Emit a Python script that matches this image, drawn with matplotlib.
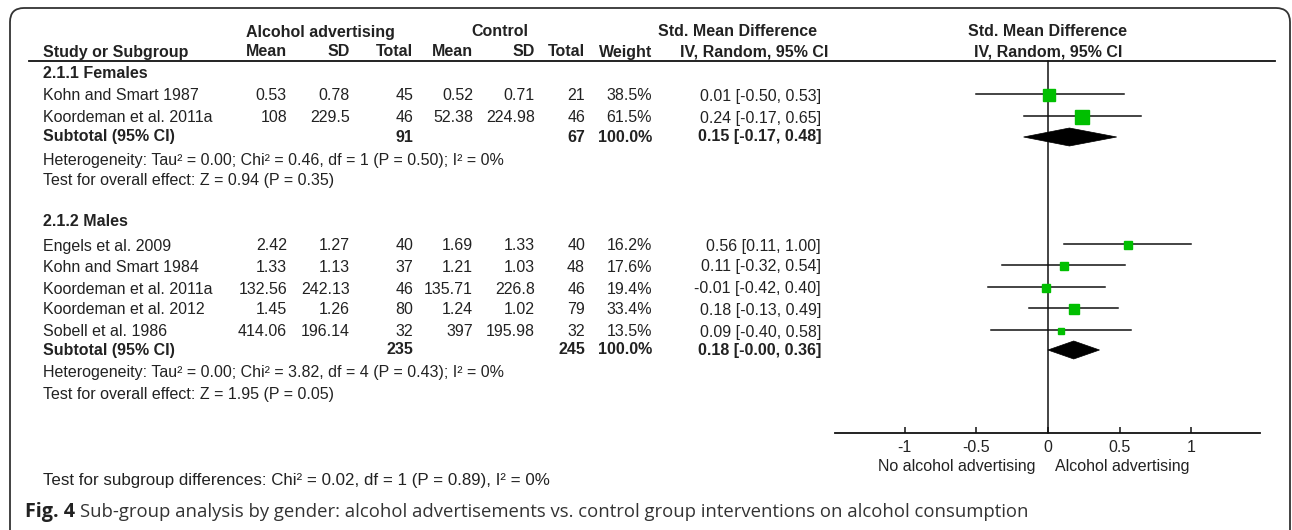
import matplotlib
matplotlib.use("Agg")
import matplotlib.pyplot as plt
from matplotlib.patches import Polygon
from matplotlib.path import Path
from matplotlib.patches import PathPatch

plt.rcParams['font.family'] = ['Liberation Sans', 'DejaVu Sans']

# ---- data ----
fem_studies = ["Kohn and Smart 1987", "Koordeman et al. 2011a"]
fem_exp_mean = ["0.53", "108"]
fem_exp_sd = ["0.78", "229.5"]
fem_exp_n = [45, 46]
fem_ctl_mean = ["0.52", "52.38"]
fem_ctl_sd = ["0.71", "224.98"]
fem_ctl_n = [21, 46]
fem_weight = [38.5, 61.5]
fem_smd = [0.01, 0.24]
fem_lo = [-0.50, -0.17]
fem_hi = [0.53, 0.65]
fem_total = (91, 67, 0.15, -0.17, 0.48)
fem_het = "Heterogeneity: Tau\u00b2 = 0.00; Chi\u00b2 = 0.46, df = 1 (P = 0.50); I\u00b2 = 0%"
fem_test = "Test for overall effect: Z = 0.94 (P = 0.35)"

male_studies = ["Engels et al. 2009", "Kohn and Smart 1984", "Koordeman et al. 2011a",
                "Koordeman et al. 2012", "Sobell et al. 1986"]
male_exp_mean = ["2.42", "1.33", "132.56", "1.45", "414.06"]
male_exp_sd = ["1.27", "1.13", "242.13", "1.26", "196.14"]
male_exp_n = [40, 37, 46, 80, 32]
male_ctl_mean = ["1.69", "1.21", "135.71", "1.24", "397"]
male_ctl_sd = ["1.33", "1.03", "226.8", "1.02", "195.98"]
male_ctl_n = [40, 48, 46, 79, 32]
male_weight = [16.2, 17.6, 19.4, 33.4, 13.5]
male_smd = [0.56, 0.11, -0.01, 0.18, 0.09]
male_lo = [0.11, -0.32, -0.42, -0.13, -0.40]
male_hi = [1.00, 0.54, 0.40, 0.49, 0.58]
male_total = (235, 245, 0.18, -0.00, 0.36)
male_het = "Heterogeneity: Tau\u00b2 = 0.00; Chi\u00b2 = 3.82, df = 4 (P = 0.43); I\u00b2 = 0%"
male_test = "Test for overall effect: Z = 1.95 (P = 0.05)"

subgroup_test = "Test for subgroup differences: Chi\u00b2 = 0.02, df = 1 (P = 0.89), I\u00b2 = 0%"
xticks = [-1, -0.5, 0, 0.5, 1]
xticklabels = ["-1", "-0.5", "0", "0.5", "1"]
left_label = "No alcohol advertising"
right_label = "Alcohol advertising"
caption_bold = "Fig. 4"
caption_text = ("Sub-group analysis by gender: alcohol advertisements vs. control group "
                "interventions on alcohol consumption")

W, H = 1292, 530
fig = plt.figure(figsize=(W / 100, H / 100), dpi=100)
base = fig.add_axes([0, 0, 1, 1])
base.set_xlim(0, W)
base.set_ylim(H, 0)
base.axis('off')

TXT = '#222222'
FS = 11.5
GREEN = '#00bf00'

# border (rounded top corners, open bottom)
r = 14
verts = [(10, H), (10, 8 + r), (10, 8), (10 + r, 8), (1290 - r, 8), (1290, 8), (1290, 8 + r), (1290, H)]
codes = [Path.MOVETO, Path.LINETO, Path.CURVE3, Path.CURVE3, Path.LINETO, Path.CURVE3, Path.CURVE3, Path.LINETO]
base.add_patch(PathPatch(Path(verts, codes), fill=False, ec='#333333', lw=1.3))

# column x positions (right edges)
cx = dict(name=43, em=287, esd=350, en=413, cm=473, csd=535, cn=585, w=652, ci=821)

def t(x, y, s, ha='right', bold=False, size=FS):
    base.text(x, y, s, ha=ha, va='center', fontsize=size, color=TXT,
              fontweight='bold' if bold else 'normal')

# header
t(320, 32, "Alcohol advertising", ha='center', bold=True)
t(500, 32, "Control", ha='center', bold=True)
t(737, 32, "Std. Mean Difference", ha='center', bold=True)
t(1048, 32, "Std. Mean Difference", ha='center', bold=True)
t(cx['name'], 52, "Study or Subgroup", ha='left', bold=True)
for key, lab in [('em', 'Mean'), ('esd', 'SD'), ('en', 'Total'), ('cm', 'Mean'),
                 ('csd', 'SD'), ('cn', 'Total'), ('w', 'Weight')]:
    t(cx[key], 52, lab, bold=True)
t(828, 52, "IV, Random, 95% CI", bold=True)
t(1048, 52, "IV, Random, 95% CI", ha='center', bold=True)
base.plot([29, 1275], [61, 61], color='#111111', lw=1.3)

# forest axes
x0, x1 = 835, 1260
fax = fig.add_axes([x0 / W, 0, (x1 - x0) / W, 1])
fax.set_xlim(-1.486, 1.48)
fax.set_ylim(H, 0)
fax.patch.set_alpha(0)
for s in ['top', 'left', 'right']:
    fax.spines[s].set_visible(False)
fax.spines['bottom'].set_position(('data', 433))
fax.spines['bottom'].set_color('#111111')
fax.spines['bottom'].set_linewidth(1.3)
fax.set_yticks([])
fax.set_xticks(xticks)
fax.set_xticklabels(xticklabels)
fax.tick_params(axis='x', direction='in', length=4, width=1.1, color='#111111',
                labelsize=FS, labelcolor=TXT, pad=5)
fax.plot([0, 0], [61, 433], color='#111111', lw=1.1, zorder=1)


def draw_group(y_title, title, ys, studies, em, esd, en, cm, csd, cn, wt, smd, lo, hi,
               total, y_sub, het, test):
    t(cx['name'], y_title, title, ha='left', bold=True)
    for i, y in enumerate(ys):
        t(cx['name'], y, studies[i], ha='left')
        t(cx['em'], y, em[i])
        t(cx['esd'], y, esd[i])
        t(cx['en'], y, str(en[i]))
        t(cx['cm'], y, cm[i])
        t(cx['csd'], y, csd[i])
        t(cx['cn'], y, str(cn[i]))
        t(cx['w'], y, f"{wt[i]:.1f}%")
        t(cx['ci'], y, f"{smd[i]:.2f} [{lo[i]:.2f}, {hi[i]:.2f}]")
        fax.plot([lo[i], hi[i]], [y - 2, y - 2], color='#111111', lw=1.1, zorder=2)
        side = 1.8 * wt[i] ** 0.5
        fax.plot([smd[i]], [y - 1], marker='s', ms=side * 0.72, color=GREEN,
                 mec=GREEN, ls='none', zorder=3)
    ne, nc, est, l, h = total
    t(cx['name'], y_sub, "Subtotal (95% CI)", ha='left', bold=True)
    t(cx['en'], y_sub, str(ne), bold=True)
    t(cx['cn'], y_sub, str(nc), bold=True)
    t(cx['w'], y_sub, "100.0%", bold=True)
    t(cx['ci'], y_sub, f"{est:.2f} [{l:.2f}, {h:.2f}]", bold=True)
    fax.add_patch(Polygon([(l, y_sub), (est, y_sub - 9), (h, y_sub), (est, y_sub + 9)],
                          closed=True, fc='black', ec='black', lw=0.5, zorder=3))
    t(cx['name'], y_sub + 23, het, ha='left')
    t(cx['name'], y_sub + 44, test, ha='left')


draw_group(73, "2.1.1 Females", [96, 118], fem_studies, fem_exp_mean, fem_exp_sd, fem_exp_n,
           fem_ctl_mean, fem_ctl_sd, fem_ctl_n, fem_weight, fem_smd, fem_lo, fem_hi,
           fem_total, 137, fem_het, fem_test)
draw_group(222, "2.1.2 Males", [246, 267, 289, 310, 332], male_studies, male_exp_mean,
           male_exp_sd, male_exp_n, male_ctl_mean, male_ctl_sd, male_ctl_n, male_weight,
           male_smd, male_lo, male_hi, male_total, 350, male_het, male_test)

# effect direction labels
t(1035, 467, left_label)
t(1055, 467, right_label, ha='left')

t(cx['name'], 481, subgroup_test, ha='left', size=12.2)

# caption
cap1 = base.text(25, 512, caption_bold, ha='left', va='center', fontsize=14.2, color='#222222',
                 fontweight='bold', family=['Open Sans', 'DejaVu Sans'])
fig.canvas.draw()
bb = cap1.get_window_extent()
base.text(bb.x1 + 5, 512, caption_text, ha='left', va='center', fontsize=13.3,
          color='#333333', family=['Open Sans', 'DejaVu Sans'])

fig.savefig("out.png", dpi=100)
